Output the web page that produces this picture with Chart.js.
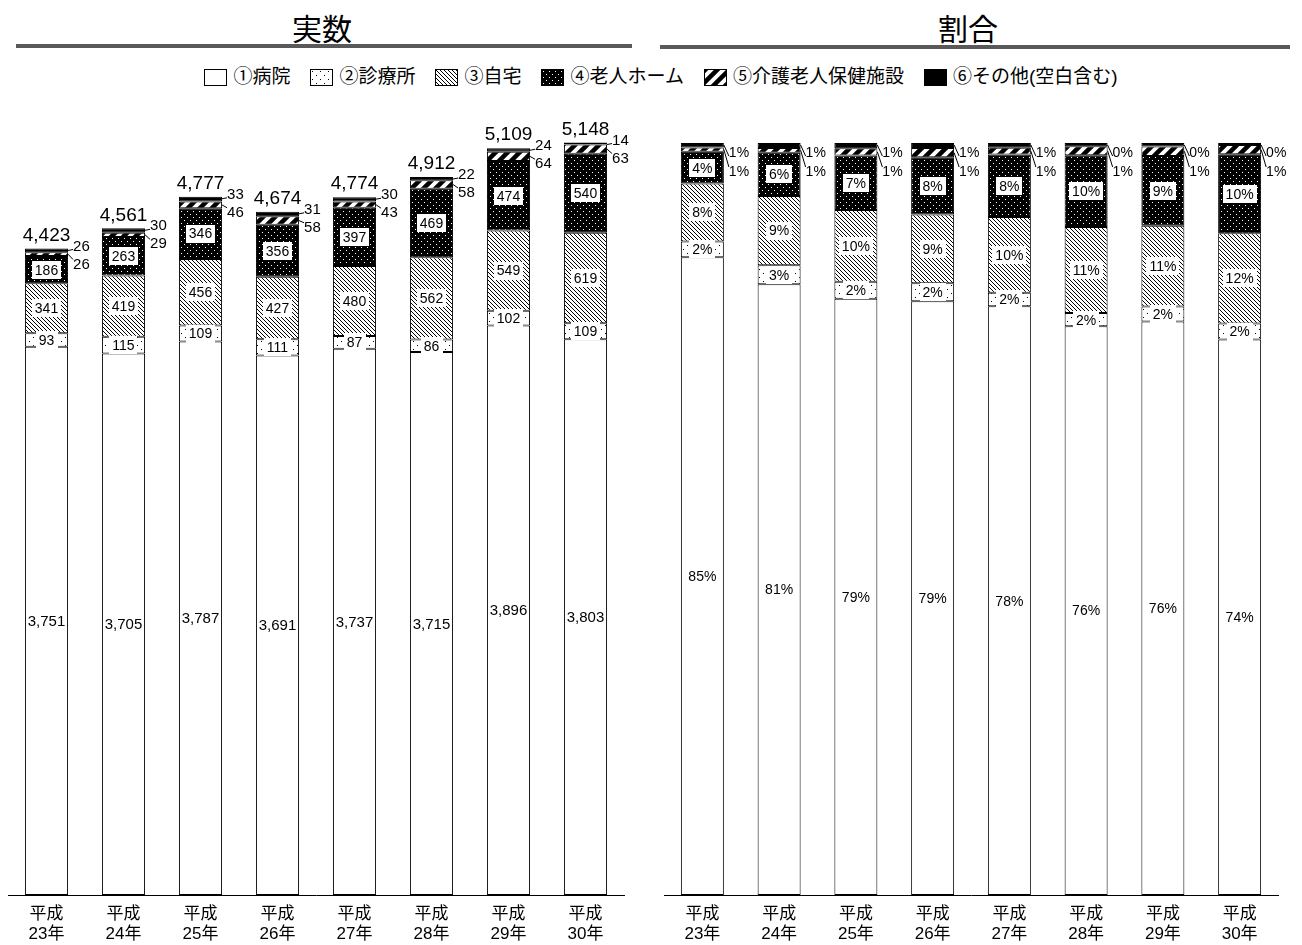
<!DOCTYPE html>
<html lang="ja">
<head>
<meta charset="utf-8">
<script src="https://cdn.jsdelivr.net/npm/chart.js@4.4.1/dist/chart.umd.min.js"></script>
<style>
  html, body { margin: 0; padding: 0; background: #fff; }
  body { width: 1302px; height: 945px; position: relative; overflow: hidden;
         font-family: "Liberation Sans", "Noto Sans CJK JP", sans-serif; color: #000; }
  .rule { position: absolute; height: 4px; background: #595959; }
  .ttl { position: absolute; top: 11px; font-size: 30px; line-height: 38px; text-align: center; width: 200px; }
  #legend { position: absolute; top: 65px; left: 0; width: 1322px; display: flex; justify-content: center;
            font-size: 19px; line-height: 24px; }
  #legend .item { display: flex; align-items: center; margin: 0 10px; }
  #legend canvas { border: 1px solid #000; width: 21px; height: 15px; margin-right: 6px; }
  #left, #right { position: absolute; top: 0; }
</style>
</head>
<body>
<div class="rule" style="left:16px; width:616px; top:44px;"></div>
<div class="rule" style="left:660px; width:630px; top:45px;"></div>
<div class="ttl" style="left:222px;">実数</div>
<div class="ttl" style="left:868px;">割合</div>
<div id="legend"></div>
<canvas id="left" style="left:0; width:650px; height:945px;" width="650" height="945"></canvas>
<canvas id="right" style="left:650px; width:652px; height:945px;" width="652" height="945"></canvas>
<script>
// カテゴリ・系列データ
var years = [['平成', '23年'], ['平成', '24年'], ['平成', '25年'], ['平成', '26年'],
             ['平成', '27年'], ['平成', '28年'], ['平成', '29年'], ['平成', '30年']];
var seriesNames = ['①病院', '②診療所', '③自宅', '④老人ホーム', '⑤介護老人保健施設', '⑥その他(空白含む)'];
var hospital     = [3751, 3705, 3787, 3691, 3737, 3715, 3896, 3803];
var clinic       = [93, 115, 109, 111, 87, 86, 102, 109];
var home         = [341, 419, 456, 427, 480, 562, 549, 619];
var nursingHome  = [186, 263, 346, 356, 397, 469, 474, 540];
var careFacility = [26, 29, 46, 58, 43, 58, 64, 63];
var other        = [26, 30, 33, 31, 30, 22, 24, 14];
var totals       = [4423, 4561, 4777, 4674, 4774, 4912, 5109, 5148];

var series = [hospital, clinic, home, nursingHome, careFacility, other];

// 塗りパターン
function tile(w, h, draw) {
  var c = document.createElement('canvas');
  c.width = w; c.height = h;
  var g = c.getContext('2d');
  draw(g, w, h);
  return c;
}
var tiles = [
  tile(4, 4, function (g) { g.fillStyle = '#fff'; g.fillRect(0, 0, 4, 4); }),
  tile(8, 8, function (g) {
    g.fillStyle = '#fff'; g.fillRect(0, 0, 8, 8);
    g.fillStyle = '#000'; g.fillRect(1, 1, 1, 1); g.fillRect(5, 5, 1, 1);
  }),
  tile(4, 4, function (g) {
    g.fillStyle = '#fff'; g.fillRect(0, 0, 4, 4);
    g.fillStyle = '#000';
    for (var k = 0; k < 4; k++) { g.fillRect(k, k, 1, 1); }
  }),
  tile(6, 6, function (g) {
    g.fillStyle = '#000'; g.fillRect(0, 0, 6, 6);
    g.fillStyle = '#fff'; g.fillRect(1, 1, 1, 1); g.fillRect(4, 4, 1, 1);
  }),
  tile(12, 12, function (g) {
    g.fillStyle = '#fff'; g.fillRect(0, 0, 12, 12);
    g.strokeStyle = '#000'; g.lineWidth = 4.5;
    g.beginPath();
    g.moveTo(-3, 15); g.lineTo(15, -3);
    g.moveTo(-3, 3); g.lineTo(3, -3);
    g.moveTo(9, 15); g.lineTo(15, 9);
    g.stroke();
  }),
  tile(4, 4, function (g) { g.fillStyle = '#000'; g.fillRect(0, 0, 4, 4); })
];
function patterns(ctx) {
  return tiles.map(function (t) { return ctx.createPattern(t, 'repeat'); });
}

// 凡例
var legend = document.getElementById('legend');
seriesNames.forEach(function (name, k) {
  var item = document.createElement('div');
  item.className = 'item';
  var sw = document.createElement('canvas');
  sw.width = 21; sw.height = 15;
  var g = sw.getContext('2d');
  g.fillStyle = g.createPattern(tiles[k], 'repeat');
  g.fillRect(0, 0, 21, 15);
  var tx = document.createElement('span');
  tx.textContent = name;
  item.appendChild(sw); item.appendChild(tx);
  legend.appendChild(item);
});

var FONT = '"Liberation Sans", "Noto Sans CJK JP", sans-serif';

// 棒の中・横・上のラベル
var segLabels = {
  id: 'segLabels',
  afterDatasetsDraw: function (chart, args, opts) {
    var ctx = chart.ctx;
    var metas = [0, 1, 2, 3, 4, 5].map(function (k) { return chart.getDatasetMeta(k); });
    ctx.save();
    ctx.textAlign = 'center';
    ctx.textBaseline = 'middle';
    ctx.fillStyle = '#000';
    ctx.strokeStyle = '#000';
    ctx.lineWidth = 1;
    metas[0].data.forEach(function (b0, i) {
      var bars = metas.map(function (m) { return m.data[i]; });
      var x = b0.x, right = b0.x + b0.width / 2;
      for (var k = 0; k < 4; k++) {
        var b = bars[k];
        var cy = (b.y + b.base) / 2;
        var txt = opts.text(k, i);
        ctx.font = (k === 0 ? opts.mainSize : opts.size) + 'px ' + FONT;
        if (k > 0) {
          var tw = ctx.measureText(txt).width;
          ctx.fillStyle = '#fff';
          ctx.fillRect(Math.round(x - tw / 2 - 3), Math.round(cy - opts.size / 2 - 2), Math.round(tw + 6), opts.size + 4);
          ctx.fillStyle = '#000';
        }
        ctx.fillText(txt, x, cy + 1);
      }
      // ⑤⑥は棒の右側
      var top = bars[5].y;
      ctx.font = opts.sideSize + 'px ' + FONT;
      ctx.textAlign = 'left';
      var up = top + opts.upOff, low = top + opts.lowOff;
      ctx.fillText(opts.text(5, i), right + 5, up);
      ctx.fillText(opts.text(4, i), right + 5, low);
      ctx.beginPath();
      ctx.moveTo(right, top + 2); ctx.lineTo(right + 5, up + 3);
      ctx.moveTo(right, (bars[4].y + bars[4].base) / 2); ctx.lineTo(right + 5, low - 5);
      ctx.stroke();
      ctx.textAlign = 'center';
      if (opts.total) {
        ctx.font = '19px ' + FONT;
        ctx.fillText(opts.total(i), x, top - 13);
      }
    });
    ctx.restore();
  }
};

function makeChart(id, data, padding, yMax, labelOpts) {
  var canvas = document.getElementById(id);
  var pats = patterns(canvas.getContext('2d'));
  return new Chart(canvas, {
    type: 'bar',
    data: {
      labels: years,
      datasets: data.map(function (d, k) {
        return {
          label: seriesNames[k],
          data: d,
          backgroundColor: pats[k],
          borderColor: '#000',
          borderWidth: 1,
          borderSkipped: false,
          barPercentage: 0.56,
          categoryPercentage: 1
        };
      })
    },
    options: {
      responsive: false,
      animation: false,
      devicePixelRatio: 1,
      layout: { padding: padding },
      plugins: { legend: { display: false }, tooltip: { enabled: false }, segLabels: labelOpts },
      scales: {
        x: {
          stacked: true,
          grid: { display: false, drawTicks: false },
          border: { display: true, color: '#000', width: 1 },
          ticks: { color: '#000', font: { size: 17, family: FONT, lineHeight: 1.18 }, padding: 9, maxRotation: 0 },
          afterFit: function (scale) { scale.height = 50; }
        },
        y: { stacked: true, display: false, min: 0, max: yMax }
      }
    },
    plugins: [segLabels]
  });
}

makeChart('left', series, { left: 8, right: 26, top: 18, bottom: 0 }, 6000, {
  mainSize: 15, size: 14, sideSize: 15, upOff: -2, lowOff: 16,
  text: function (k, i) { return series[k][i].toLocaleString('en-US'); },
  total: function (i) { return totals[i].toLocaleString('en-US'); }
});

var shares = series.map(function (s) {
  return s.map(function (v, i) { return v / totals[i] * 100; });
});
makeChart('right', shares, { left: 14, right: 24, top: 143, bottom: 0 }, 100, {
  mainSize: 14, size: 14, sideSize: 14, upOff: 10, lowOff: 29,
  text: function (k, i) { return Math.round(series[k][i] / totals[i] * 100) + '%'; }
});
</script>
</body>
</html>
